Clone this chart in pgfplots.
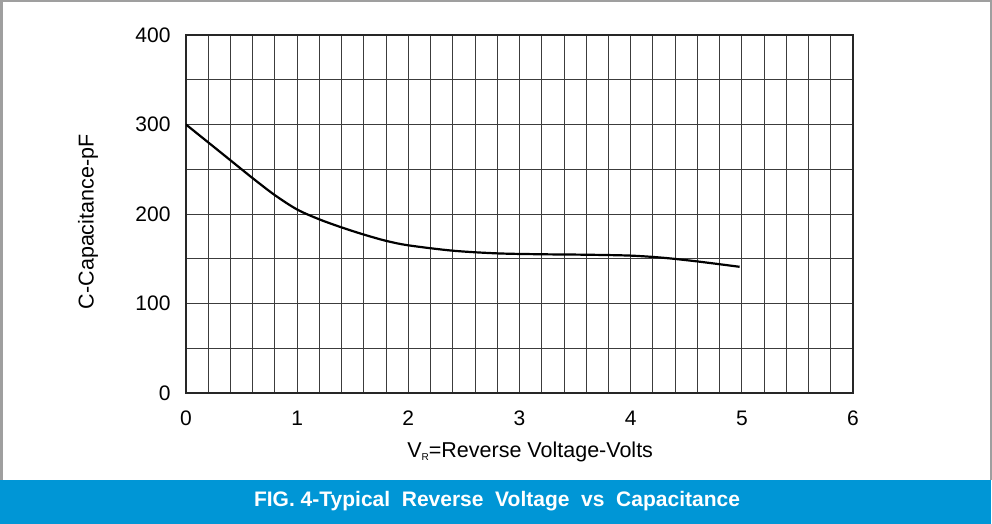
\documentclass[border=0pt]{standalone}
\usepackage{fontspec}
\setmainfont{Liberation Sans}
\usepackage{pgfplots}
\pgfplotsset{compat=1.18}
\definecolor{banner}{RGB}{0,150,214}
\definecolor{gridc}{RGB}{60,60,60}

\begin{document}
\begin{tikzpicture}
% page frame
\path (0pt,0pt) rectangle (992pt,524pt);
\fill[gray!75] (0pt,44pt) rectangle (3pt,524pt);
\fill[gray!75] (0pt,522pt) rectangle (992pt,524pt);
\fill[gray!75] (990pt,44pt) rectangle (992pt,524pt);
\fill[banner] (0pt,0pt) rectangle (991pt,44pt);
\node[text=white, font=\fontsize{21}{23}\selectfont\bfseries] at (497pt,23pt)
  {FIG.~4-Typical\ \ Reverse\ \ Voltage\ \ vs\ \ Capacitance};

\begin{axis}[
    at={(186pt,131pt)}, anchor=south west,
    scale only axis, width=667pt, height=358pt,
    xmin=0, xmax=6, ymin=0, ymax=400,
    xtick={0,1,...,6}, ytick={0,100,...,400},
    minor x tick num=4, minor y tick num=1,
    grid=both,
    major grid style={gridc, line width=0.9pt},
    minor grid style={gridc, line width=0.9pt},
    major tick length=0pt, minor tick length=0pt,
    axis line style={black!85, line width=1.1pt},
    tick label style={font=\fontsize{21}{23}\selectfont},
    /pgf/number format/assume math mode=true,
    yticklabel style={anchor=east, xshift=-12pt},
    xticklabel style={anchor=north, yshift=-14pt, text height=15pt, text depth=0pt},
    xlabel={V\raisebox{-3pt}{\fontsize{10}{10}\selectfont R}=Reverse Voltage-Volts},
    ylabel={C-Capacitance-pF},
    every axis x label/.style={at={(axis description cs:0.516,-0.165)}, anchor=center,
      font=\fontsize{21.5}{23}\selectfont},
    every axis y label/.style={at={(axis description cs:-0.147,0.478)}, anchor=center, rotate=90,
      font=\fontsize{21.5}{23}\selectfont},
  ]
\addplot[black, line width=2.2pt, smooth] coordinates {
  (0,300) (0.2,280) (0.4,260) (0.6,240) (0.8,221) (1.0,205)
  (1.2,194) (1.4,185) (1.6,177) (1.8,170) (2.0,165) (2.4,159)
  (2.8,156) (3.2,155) (3.6,154.5) (4.0,153.5) (4.3,151) (4.6,147) (4.98,141)
};
\end{axis}
\end{tikzpicture}
\end{document}
